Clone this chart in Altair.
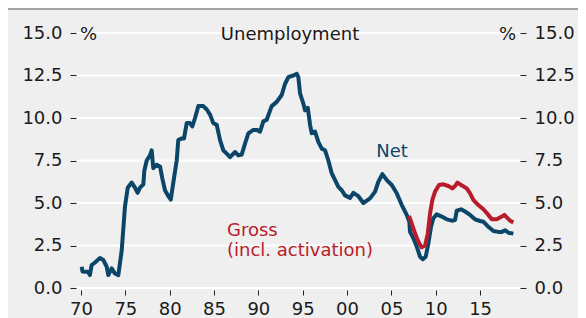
import altair as alt
import pandas as pd

# ---- data ----
net_year = [1970.08, 1970.17, 1970.45, 1970.79, 1971.0, 1971.2, 1971.58, 1972.14, 1972.51, 1972.9,
            1973.08, 1973.46, 1973.83, 1974.21, 1974.59, 1974.96, 1975.27, 1975.72, 1976.09, 1976.39,
            1976.65, 1977.03, 1977.14, 1977.41, 1977.78, 1977.97, 1978.15, 1978.54, 1978.91, 1979.17,
            1979.47, 1979.85, 1980.12, 1980.41, 1980.79, 1980.97, 1981.36, 1981.62, 1981.92, 1982.29,
            1982.55, 1982.86, 1983.23, 1983.79, 1984.18, 1984.55, 1984.92, 1985.3, 1985.68, 1986.05,
            1986.43, 1986.8, 1987.37, 1987.74, 1988.12, 1988.5, 1988.87, 1989.43, 1989.82, 1990.19,
            1990.56, 1990.94, 1991.5, 1992.07, 1992.63, 1993.0, 1993.38, 1993.94, 1994.33, 1994.51,
            1994.7, 1995.07, 1995.26, 1995.57, 1995.83, 1996.02, 1996.39, 1996.76, 1997.15, 1997.52,
            1997.89, 1998.27, 1998.65, 1999.02, 1999.4, 1999.77, 2000.34, 2000.71, 2001.27, 2001.84,
            2002.59, 2003.16, 2003.53, 2003.98, 2004.48, 2005.04, 2005.6, 2006.17, 2006.73, 2007.02,
            2007.1, 2007.48, 2007.86, 2008.23, 2008.54, 2008.87, 2009.17, 2009.47, 2009.73, 2010.11,
            2010.68, 2011.24, 2011.81, 2012.18, 2012.37, 2012.86, 2013.31, 2013.87, 2014.43, 2015.0,
            2015.37, 2015.93, 2016.5, 2017.06, 2017.45, 2017.82, 2018.19, 2018.75]
net_value = [1.25, 0.97, 0.95, 0.95, 0.76, 1.35, 1.5, 1.76, 1.65, 1.25,
             0.76, 1.15, 0.85, 0.76, 2.2, 4.8, 5.9, 6.2, 5.9, 5.6,
             5.9, 6.1, 6.9, 7.5, 7.8, 8.1, 7.05, 7.25, 7.15, 6.45,
             5.75, 5.4, 5.2, 6.2, 7.5, 8.7, 8.8, 8.8, 9.7, 9.7,
             9.5, 10.0, 10.7, 10.7, 10.5, 10.2, 9.7, 9.6, 8.7, 8.1,
             7.9, 7.7, 8.0, 7.8, 7.85, 8.5, 9.1, 9.3, 9.3, 9.2,
             9.8, 9.9, 10.7, 10.95, 11.35, 12.0, 12.4, 12.5, 12.6, 12.4,
             11.45, 10.85, 10.45, 10.6, 9.6, 9.1, 9.2, 8.6, 8.2, 8.1,
             7.5, 6.75, 6.35, 5.95, 5.75, 5.45, 5.3, 5.6, 5.4, 5.0,
             5.27, 5.67, 6.25, 6.7, 6.35, 6.06, 5.57, 4.88, 4.3, 3.9,
             3.3, 2.92, 2.43, 1.84, 1.69, 1.84, 2.63, 3.6, 4.1, 4.33,
             4.2, 4.04, 3.96, 4.0, 4.55, 4.63, 4.5, 4.3, 4.04, 3.94,
             3.9, 3.6, 3.35, 3.3, 3.3, 3.4, 3.25, 3.2]

gross_year = [2006.99, 2007.29, 2007.67, 2008.04, 2008.42, 2008.8, 2009.1, 2009.36, 2009.62, 2009.92,
              2010.37, 2010.86, 2011.42, 2011.87, 2012.18, 2012.44, 2012.86, 2013.5, 2013.87, 2014.24,
              2014.8, 2015.37, 2015.93, 2016.32, 2016.88, 2017.45, 2017.74, 2018.12, 2018.38, 2018.75]
gross_value = [4.24, 3.8, 3.2, 2.72, 2.39, 2.5, 3.2, 4.39, 5.18, 5.67,
               6.06, 6.1, 6.0, 5.86, 6.0, 6.2, 6.06, 5.86, 5.57, 5.18,
               4.88, 4.63, 4.3, 4.04, 4.04, 4.2, 4.3, 4.1, 3.96, 3.86]

x_ticks = [1970, 1975, 1980, 1985, 1990, 1995, 2000, 2005, 2010, 2015]
y_ticks = [0, 2.5, 5, 7.5, 10, 12.5, 15]

title_text = "Unemployment"
unit_text = "%"
net_label = "Net"
gross_label = ["Gross", "(incl. activation)"]

# ---- styling ----
FONT = "DejaVu Sans"
NET_COLOR = "#0b4669"
GROSS_COLOR = "#b81c2b"
TEXT_COLOR = "#1a1a1a"
BG = "#efefef"

net_df = pd.DataFrame({"year": net_year, "value": net_value})
gross_df = pd.DataFrame({"year": gross_year, "value": gross_value})
grid_df = pd.DataFrame({"v": y_ticks})

xscale = alt.Scale(domain=[1969.55, 2019.5], nice=False, zero=False)
yscale = alt.Scale(domain=[0, 15], nice=False, zero=False)

x_axis = alt.Axis(values=x_ticks, labelExpr="substring(toString(datum.value), 2, 4)",
                  grid=False, domain=False, ticks=True, tickSize=5, tickColor="#222222",
                  tickWidth=1, offset=2, labelPadding=5, labelFontSize=18, labelFont=FONT,
                  labelColor=TEXT_COLOR, title=None)

left_axis = alt.Axis(values=y_ticks, format=".1f", orient="left", grid=False,
                     domain=False, tickSize=6, tickColor="#222222", tickWidth=1,
                     offset=1, labelPadding=8, labelFontSize=18, labelFont=FONT,
                     labelColor=TEXT_COLOR, title=None)
right_axis = alt.Axis(values=y_ticks, format=".1f", orient="right", grid=False,
                      domain=False, tickSize=6, tickColor="#222222", tickWidth=1,
                      offset=0, labelPadding=8, labelFontSize=18, labelFont=FONT,
                      labelColor=TEXT_COLOR, title=None)

grid = alt.Chart(grid_df).mark_rule(color="#ffffff", strokeWidth=2, opacity=1).encode(
    y=alt.Y("v:Q", scale=yscale, axis=None),
    x=alt.value(0), x2=alt.value(443),
)

net = alt.Chart(net_df).mark_line(color=NET_COLOR, strokeWidth=4, strokeJoin="round").encode(
    x=alt.X("year:Q", scale=xscale, axis=x_axis),
    y=alt.Y("value:Q", scale=yscale, axis=left_axis),
)
gross = alt.Chart(gross_df).mark_line(color=GROSS_COLOR, strokeWidth=4, strokeJoin="round").encode(
    x=alt.X("year:Q", scale=xscale, axis=x_axis),
    y=alt.Y("value:Q", scale=yscale, axis=right_axis),
)

one = pd.DataFrame({"k": [0]})

def label(text, x, y, color, align, size=18):
    return alt.Chart(one).mark_text(text=text, font=FONT, fontSize=size, color=color,
                                    align=align, baseline="alphabetic", lineHeight=20).encode(
        x=alt.value(x), y=alt.value(y))

top_rule = alt.Chart(one).mark_rule(color="#888888", strokeWidth=1.5).encode(
    x=alt.value(-69), x2=alt.value(501), y=alt.value(-24))

chart = alt.layer(
    grid, net, gross,
    label(title_text, 213, 7, TEXT_COLOR, "center"),
    label(unit_text, 3, 7, TEXT_COLOR, "left"),
    label(unit_text, 439, 7, TEXT_COLOR, "right"),
    label(net_label, 315, 124, NET_COLOR, "center"),
    label(gross_label, 150, 203, GROSS_COLOR, "left"),
    top_rule,
).resolve_scale(y="independent").properties(
    width=443, height=255,
    padding={"left": 69, "top": 25, "right": 58, "bottom": 30},
    autosize=alt.AutoSizeParams(type="none"),
).configure(background=BG).configure_view(stroke=None)

chart.save("out.html", embed_options={"renderer": "svg", "actions": False})
